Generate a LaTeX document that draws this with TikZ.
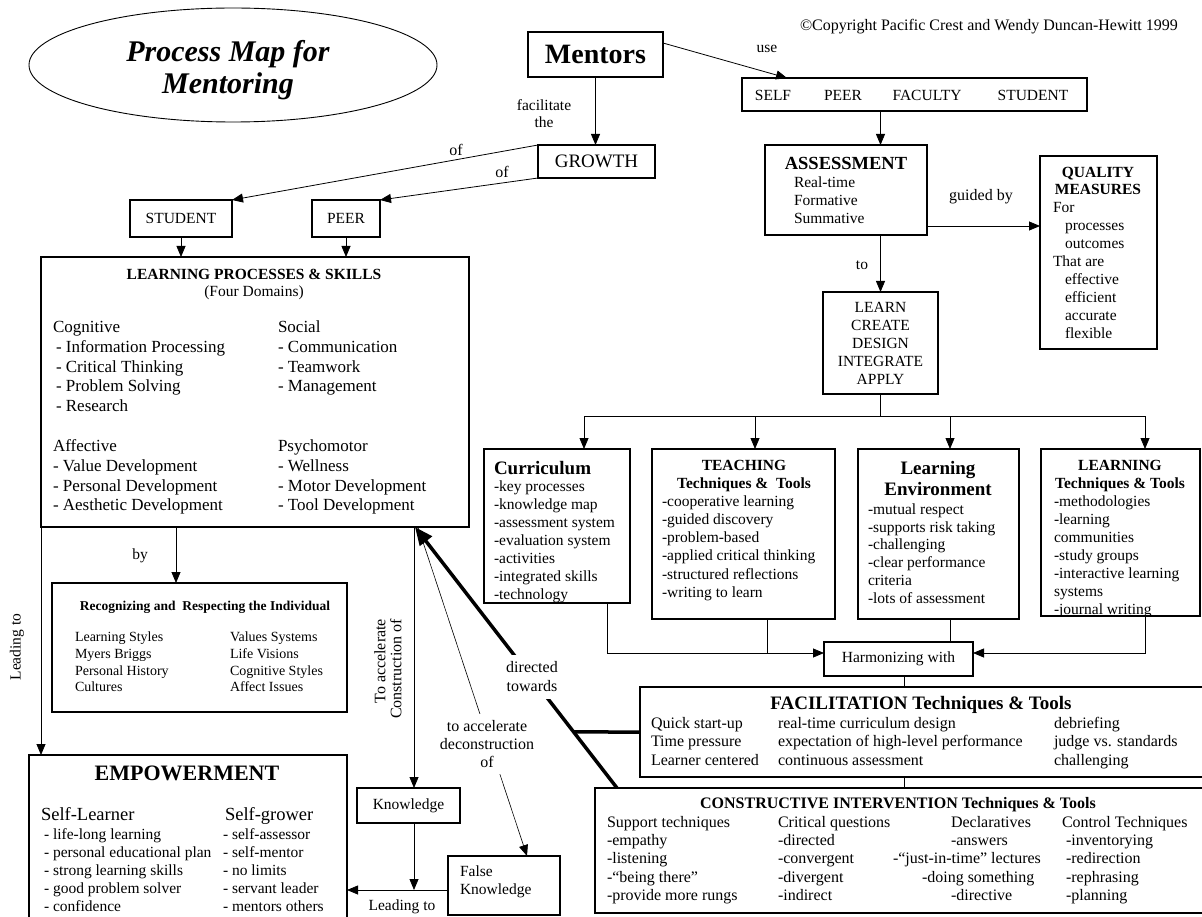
\documentclass[tikz,border=0pt]{standalone}
\usepackage{fontspec}
\setmainfont{Liberation Serif}
\usetikzlibrary{shapes.geometric,arrows.meta,calc}
\newcommand\myfs[2]{\fontsize{#1}{#2}\selectfont}
\newcommand\fbody{\myfs{15.5}{18}}
\tikzset{
  box/.style={draw, line width=1.1pt, inner sep=0pt, outer sep=0pt},
  txt/.style={inner sep=0pt, outer sep=0pt},
  blk/.style={inner sep=0pt, outer sep=0pt, anchor=north west, align=left},
  arr/.style={line width=0.8pt, -{Triangle[length=11pt,width=9pt]}},
  ln/.style={line width=0.8pt},
  thk/.style={line width=3.5pt},
}
\begin{document}
\begin{tikzpicture}[x=1pt,y=-1pt]
\useasboundingbox[fill=white] (0,0) rectangle (1202,917);

% title
\node[draw, ellipse, line width=0.9pt, minimum width=408pt, minimum height=114pt, inner sep=0pt] (titleell) at (233,65) {};
\node[txt, align=center, font=\myfs{30}{32}\bfseries\itshape] (titletxt) at (228,70) {Process Map for\\Mentoring};

% copyright
\node[txt, anchor=base west, font=\myfs{16}{18}] (copy) at (800,31) {©Copyright Pacific Crest and Wendy Duncan-Hewitt 1999};

% Mentors
\node[box, minimum width=135pt, minimum height=45pt, font=\myfs{28}{30}\bfseries] (mentors) at (595.5,54.5) {Mentors};
\node[txt, font=\fbody] (use) at (767,49) {use};

% SELF box
\node[box, minimum width=345pt, minimum height=33pt] (self) at (914.5,94.5) {};
\node[txt, font=\fbody] (tself) at (773,95) {SELF};
\node[txt, font=\fbody] (tpeer) at (843,95) {PEER};
\node[txt, font=\fbody] (tfac) at (927,95) {FACULTY};
\node[txt, font=\fbody] (tstu) at (1033,95) {STUDENT};
\draw[arr] ([yshift=11.5pt]mentors.east) -- ([xshift=45pt]self.north west);

% GROWTH
\node[box, minimum width=117pt, minimum height=33pt, font=\myfs{19}{22}] (growth) at (596.5,161.5) {GROWTH};
\node[txt, align=center, font=\myfs{15.5}{17}] (faclbl) at (544,114) {facilitate\\the};
\draw[arr] (mentors.south) -- (mentors.south |- growth.north);

% STUDENT / PEER
\node[box, minimum width=102pt, minimum height=37pt, font=\fbody] (student) at (181,218.5) {STUDENT};
\node[box, minimum width=68pt, minimum height=37pt, font=\fbody] (peer) at (346,218.5) {PEER};
\node[txt, font=\myfs{16}{18}] (of1) at (456,150) {of};
\node[txt, font=\myfs{16}{18}] (of2) at (502,172) {of};
\draw[arr] (growth.north west) -- (student.north east);
\draw[arr] (growth.south west) -- (peer.north east);

% LEARNING PROCESSES & SKILLS
\node[box, minimum width=428pt, minimum height=270pt] (lps) at (255,392) {};
\draw[arr] (student.south) -- (student.south |- lps.north);
\draw[arr] (peer.south) -- (peer.south |- lps.north);
\node[txt, font=\myfs{15.5}{18}\bfseries] (lpst) at (254,274) {LEARNING PROCESSES \& SKILLS};
\node[txt, font=\fbody] (lpss) at (254,293) {(Four Domains)};
\node[blk, font=\myfs{17}{19.7}] (cog) at (53,319) {\strut Cognitive\\\hspace*{3pt}- Information Processing\\\hspace*{3pt}- Critical Thinking\\\hspace*{3pt}- Problem Solving\\\hspace*{3pt}- Research};
\node[blk, font=\myfs{17}{19.7}] (soc) at (278,319) {\strut Social\\- Communication\\- Teamwork\\- Management};
\node[blk, font=\myfs{17}{19.7}] (aff) at (53,438) {\strut Affective\\- Value Development\\- Personal Development\\- Aesthetic Development};
\node[blk, font=\myfs{17}{19.7}] (psy) at (278,438) {\strut Psychomotor\\- Wellness\\- Motor Development\\- Tool Development};

% Recognizing
\node[box, minimum width=295pt, minimum height=129pt] (recog) at (199.5,647.5) {};
\node[txt, font=\myfs{13.5}{16}\bfseries] (recogt) at (205,607) {Recognizing and\ \ Respecting the Individual};
\node[blk, font=\myfs{14}{16.7}] (recogl) at (75,630.2) {\strut Learning Styles\\Myers Briggs\\Personal History\\Cultures};
\node[blk, font=\myfs{14}{16.7}] (recogr) at (230,630.2) {\strut Values Systems\\Life Visions\\Cognitive Styles\\Affect Issues};
\coordinate (byTop) at ([xshift=135pt]lps.south west);
\draw[arr] (byTop) -- (byTop |- recog.north);
\node[txt, font=\fbody] (by) at (140,556) {by};

% EMPOWERMENT
\node[box, minimum width=318pt, minimum height=170pt, anchor=north west] (emp) at (29,755) {};
\node[txt, font=\myfs{22}{26}\bfseries] (empt) at (187,773) {EMPOWERMENT};
\node[txt, anchor=base west, font=\myfs{18.5}{21}] (sl) at (41,820) {Self-Learner};
\node[txt, anchor=base west, font=\myfs{18.5}{21}] (sg) at (225,820) {Self-grower};
\node[blk, font=\fbody] (sli) at (44,826.7) {\strut - life-long learning\\- personal educational plan\\- strong learning skills\\- good problem solver\\- confidence};
\node[blk, font=\fbody] (sgi) at (223,826.7) {\strut - self-assessor\\- self-mentor\\- no limits\\- servant leader\\- mentors others};
\node[txt, rotate=90, font=\fbody] (lead1) at (17,647) {Leading to};
\draw[arr] (lps.south west) -- (lps.south west |- emp.north);

% Knowledge / False Knowledge
\node[box, minimum width=103pt, minimum height=35pt, font=\fbody] (know) at (408.5,805.5) {Knowledge};
\node[box, minimum width=112pt, minimum height=59pt] (fk) at (504,885.5) {};
\node[blk, font=\fbody] (fkt) at (460,863.7) {\strut False\\Knowledge};
\node[txt, rotate=90, anchor=east, align=right, font=\myfs{16}{16}] (tacc) at (388,619) {To accelerate\\Construction of};
\coordinate (vk) at ([xshift=373pt]lps.south west);
\draw[arr] (vk) -- (vk |- know.north);
\coordinate (fkw) at ([yshift=-4.5pt]fk.west);
\draw[arr] (vk |- know.south) -- (vk |- fkw);
\draw[arr] (fkw) -- (fkw -| emp.east);
\node[txt, font=\fbody] (lead2) at (402,907) {Leading to};

% thin deconstruction line
\coordinate (tnA) at ([xshift=377pt]lps.south west);
\coordinate (tnB) at ([xshift=79pt]fk.north west);
\draw[line width=0.6pt, -{Triangle[length=11pt,width=9pt]}] (tnA) -- (tnB);
\node[txt, fill=white, inner xsep=2pt, inner ysep=6pt, align=center, font=\myfs{16}{18}] (decon) at (487,744) {to accelerate\\deconstruction\\of};

% FACILITATION and CONSTRUCTIVE boxes
\node[box, minimum width=567pt, minimum height=90pt] (facil) at (923.5,732) {};
\node[box, minimum width=612pt, minimum height=125pt] (cons) at (901,850.5) {};

% thick directed towards
\coordinate (thA) at ([xshift=22pt]cons.north west);
\coordinate (thB) at ([xshift=374pt]lps.south west);
\draw[thk, -{Triangle[length=18pt,width=15pt]}] (thA) -- (thB);
\draw[thk] (facil.west) -- ($(thA)!0.2146!(thB)$);
\node[txt, fill=white, inner xsep=2pt, inner ysep=7pt, align=center, font=\myfs{16}{19}] (dirt) at (532,677) {directed\\towards};

% ASSESSMENT
\node[box, minimum width=162pt, minimum height=90pt] (assess) at (846,190) {};
\node[txt, font=\myfs{18.5}{21}\bfseries] (assesst) at (846,163) {ASSESSMENT};
\node[blk, font=\fbody] (assessi) at (794,174.7) {\strut Real-time\\Formative\\Summative};

% QUALITY
\node[box, minimum width=117pt, minimum height=193pt] (qual) at (1098.5,252.5) {};
\node[txt, align=center, anchor=north, font=\myfs{15.5}{17}\bfseries] (qualt) at (1098,165.4) {\strut QUALITY\\MEASURES};
\node[blk, font=\fbody] (quali) at (1053,199.7) {\strut For\\\hspace*{12pt}processes\\\hspace*{12pt}outcomes\\That are\\\hspace*{12pt}effective\\\hspace*{12pt}efficient\\\hspace*{12pt}accurate\\\hspace*{12pt}flexible};
\coordinate (aE) at ([yshift=-36pt]assess.east);
\draw[arr] (aE) -- (aE -| qual.west);
\node[txt, font=\myfs{16}{18}] (guided) at (981,197) {guided by};

% LEARN box
\node[box, minimum width=115pt, minimum height=102pt, align=center, font=\fbody] (learn) at (880.5,343) {LEARN\\CREATE\\DESIGN\\INTEGRATE\\APPLY};
\draw[arr] (learn.north |- self.south) -- (learn.north |- assess.north);
\draw[arr] (learn.north |- assess.south) -- (learn.north);
\node[txt, font=\fbody] (tolbl) at (862,265) {to};

% four boxes
\node[box, minimum width=146pt, minimum height=154pt] (curr) at (557,526) {};
\node[box, minimum width=183pt, minimum height=170pt] (teach) at (743.5,534) {};
\node[box, minimum width=161pt, minimum height=170pt] (lenv) at (938.5,534) {};
\node[box, minimum width=159pt, minimum height=167pt] (lrn) at (1120.5,532.5) {};

\coordinate (bus) at ([yshift=-22pt]learn.south);
\coordinate (cA) at ([xshift=100pt]curr.north west);
\coordinate (tA) at ([xshift=103pt]teach.north west);
\coordinate (eA) at ([xshift=92pt]lenv.north west);
\coordinate (lA) at ([xshift=104pt]lrn.north west);
\draw[ln] (learn.south) -- (bus);
\draw[ln] (bus -| cA) -- (bus -| lA);
\draw[arr] (bus -| cA) -- (cA);
\draw[arr] (bus -| tA) -- (tA);
\draw[arr] (bus -| eA) -- (eA);
\draw[arr] (bus -| lA) -- (lA);

% Curriculum text
\node[txt, anchor=base west, font=\myfs{19}{22}\bfseries] (currt) at (494,474) {Curriculum};
\begin{scope}
\clip (curr.north west) rectangle (curr.south east);
\node[blk, font=\fbody] (curri) at (494,478.7) {\strut -key processes\\-knowledge map\\-assessment system\\-evaluation system\\-activities\\-integrated skills\\-technology};
\end{scope}

% Teaching text
\node[txt, anchor=north, align=center, font=\myfs{15.5}{18}\bfseries] (teacht) at (744,457.7) {\strut TEACHING\\Techniques \&\ \ Tools};
\node[blk, font=\myfs{15.5}{18.2}] (teachi) at (662,493.6) {\strut -cooperative learning\\-guided discovery\\-problem-based\\-applied critical thinking\\-structured reflections\\-writing to learn};

% Learning environment text
\node[txt, anchor=north, align=center, font=\myfs{19}{21}\bfseries] (lenvt) at (938,459.6) {\strut Learning\\Environment};
\node[blk, font=\myfs{15.5}{17.8}] (lenvi) at (868,501.9) {\strut -mutual respect\\-supports risk taking\\-challenging\\-clear performance\\criteria\\-lots of assessment};

% Learning techniques text
\node[txt, anchor=north, align=center, font=\myfs{15.5}{18}\bfseries] (lrnt) at (1120,457.7) {\strut LEARNING\\Techniques \& Tools};
\begin{scope}
\clip (lrn.north west) rectangle (lrn.south east);
\node[blk, font=\myfs{15.5}{18.1}] (lrni) at (1054,493.7) {\strut -methodologies\\-learning\\communities\\-study groups\\-interactive learning\\systems\\-journal writing};
\end{scope}

% Harmonizing
\node[box, minimum width=149pt, minimum height=34pt, font=\fbody] (harm) at (898.5,659) {Harmonizing with};
\coordinate (hW) at ([yshift=6pt]harm.west);
\coordinate (hE) at ([yshift=6pt]harm.east);
\coordinate (cB) at ([xshift=123pt]curr.south west);
\coordinate (tB) at ([xshift=115pt]teach.south west);
\coordinate (eB) at ([xshift=92pt]lenv.south west);
\coordinate (lB) at ([xshift=104pt]lrn.south west);
\draw[arr] (cB) |- (hW);
\draw[ln] (tB) -- (tB |- hW);
\draw[ln] (eB) -- (eB |- harm.north);
\draw[arr] (lB) |- (hE);
\coordinate (hS) at ([xshift=6pt]harm.south);
\draw[ln] (hS) -- (hS |- facil.north);
\draw[ln] (hS |- facil.south) -- (hS |- cons.north);

% FACILITATION text
\node[txt, font=\myfs{19}{22}\bfseries] (facilt) at (921,705) {FACILITATION Techniques \& Tools};
\node[blk, font=\myfs{16}{18.5}] (fc1) at (651,715.5) {\strut Quick start-up\\Time pressure\\Learner centered};
\node[blk, font=\myfs{16}{18.5}] (fc2) at (778,715.5) {\strut real-time curriculum design\\expectation of high-level performance\\continuous assessment};
\node[blk, font=\myfs{16}{18.5}] (fc3) at (1054,715.5) {\strut debriefing\\judge vs. standards\\challenging};

% CONSTRUCTIVE text
\node[txt, font=\myfs{16}{18}\bfseries] (const) at (898,805) {CONSTRUCTIVE INTERVENTION Techniques \& Tools};
\node[blk, font=\myfs{16}{18.2}] (cc1) at (607,814.7) {\strut Support techniques\\-empathy\\-listening\\-“being there”\\-provide more rungs};
\node[blk, font=\myfs{16}{18.2}] (cc2) at (778,814.7) {\strut Critical questions\\-directed\\-convergent\\-divergent\\-indirect};
\node[blk, font=\myfs{16}{18.2}] (cc3) at (893,814.7) {\strut\hspace*{58pt}Declaratives\\\hspace*{58pt}-answers\\-“just-in-time” lectures\\\hspace*{29pt}-doing something\\\hspace*{58pt}-directive};
\node[blk, font=\myfs{16}{18.2}] (cc4) at (1062,814.7) {\strut Control Techniques\\\hspace*{4pt}-inventorying\\\hspace*{4pt}-redirection\\\hspace*{4pt}-rephrasing\\\hspace*{4pt}-planning};

\end{tikzpicture}
\end{document}
